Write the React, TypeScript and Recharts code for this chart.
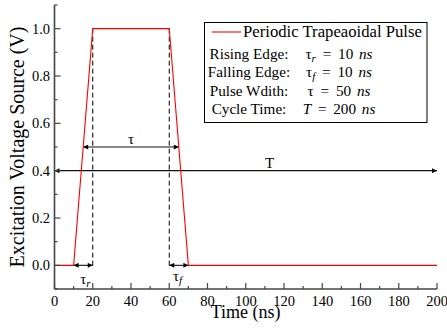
import React from 'react';
import { LineChart, Line, XAxis, YAxis, ReferenceLine, ReferenceDot } from 'recharts';

// ---- data ----
const pulseTime = [0, 10, 20, 60, 70, 200];
const pulseVoltage = [0, 0, 1, 1, 0, 0];

const xTicks = [0, 10, 20, 30, 40, 50, 60, 70, 80, 90, 100, 110, 120, 130, 140, 150, 160, 170, 180, 190, 200];
const yTicks = [-0.1, 0, 0.1, 0.2, 0.3, 0.4, 0.5, 0.6, 0.7, 0.8, 0.9, 1.0, 1.1];

const dashedTimes = [20, 60];
const dashedTop = 1.0;
const dashedBottom = -0.015;

const spanFrom = [0, 15, 10, 60];
const spanTo = [200, 65, 20, 70];
const spanLevel = [0.4, 0.5, 0, 0];

const annotText = ['T', 'τ', 'τ', 'τ'];
const annotSub = ['', '', 'r', 'f'];
const annotX = [112.5, 40, 13.4, 62.0];
const annotY = [0.41, 0.512, -0.077, -0.068];
const annotAnchor = ['middle', 'middle', 'start', 'start'];

const legendTitle = 'Periodic Trapeaoidal Pulse';
const paramNames = ['Rising Edge:', 'Falling Edge:', 'Pulse Wdith:', 'Cycle Time:'];
const paramSymbols = ['τ', 'τ', 'τ', 'T'];
const paramSubs = ['r', 'f', '', ''];
const paramValues = ['10', '10', '50', '200'];

const data = pulseTime.map((t, i) => ({ t, v: pulseVoltage[i] }));

const FONT = "'Liberation Serif', 'Times New Roman', serif";
const AXIS = '#444';
const AXW = 1.6;

const isMajorX = (v: number) => Math.round(v) % 20 === 0;
const isMajorY = (v: number) => Math.round(v * 10) % 2 === 0 && v > -0.01 && v < 1.01;

const XTickBottom = (p: any) => {
  const { x, y, payload } = p;
  const v = payload.value;
  const major = isMajorX(v);
  return (
    <g>
      <line x1={x} x2={x} y1={y} y2={y - (major ? 6 : 3)} stroke={AXIS} strokeWidth={1.2} />
      {major && (
        <text x={x} y={y + 17} textAnchor="middle" fontFamily={FONT} fontSize={14.5} fill="#000">
          {v}
        </text>
      )}
    </g>
  );
};
const XTickTop = (p: any) => {
  const { x, y, payload } = p;
  const major = isMajorX(payload.value);
  return <line x1={x} x2={x} y1={y} y2={y + (major ? 6 : 3)} stroke={AXIS} strokeWidth={1.2} />;
};
const YTickLeft = (p: any) => {
  const { x, y, payload } = p;
  const v = payload.value;
  const major = isMajorY(v);
  return (
    <g>
      <line x1={x} x2={x + (major ? 6 : 3)} y1={y} y2={y} stroke={AXIS} strokeWidth={1.2} />
      {major && (
        <text x={x - 4.5} y={y + 5} textAnchor="end" fontFamily={FONT} fontSize={14.5} fill="#000">
          {Math.abs(v).toFixed(1)}
        </text>
      )}
    </g>
  );
};
const YTickRight = (p: any) => {
  const { x, y, payload } = p;
  const major = isMajorY(payload.value);
  return <line x1={x} x2={x - (major ? 6 : 3)} y1={y} y2={y} stroke={AXIS} strokeWidth={1.2} />;
};

const XTitle = () => (
  <text x={245.6} y={318} textAnchor="middle" fontFamily={FONT} fontSize={18} fill="#000">
    Time (ns)
  </text>
);
const YTitle = () => {
  const cx = 23.5;
  const cy = 147;
  return (
    <text x={cx} y={cy} textAnchor="middle" fontFamily={FONT} fontSize={20} fill="#000" transform={`rotate(-90, ${cx}, ${cy})`}>
      Excitation Voltage Source (V)
    </text>
  );
};

const ArrowShape = (p: any) => (
  <line x1={p.x1} y1={p.y1} x2={p.x2} y2={p.y2} stroke="#111" strokeWidth={1.1} markerStart="url(#ah)" markerEnd="url(#ah)" />
);

const makeAnnot = (i: number) => (p: any) => (
  <text x={p.cx} y={p.cy} textAnchor={annotAnchor[i]} fontFamily={FONT} fontSize={15} fill="#000">
    {annotText[i]}
    {annotSub[i] && (
      <tspan dy={3} fontSize={11} fontStyle="italic">
        {annotSub[i]}
      </tspan>
    )}
  </text>
);

export default function App() {
  return (
    <div style={{ position: 'absolute', left: 0, top: 0, width: 447, height: 328, background: '#fff' }}>
      <LineChart width={447} height={328} data={data} margin={{ top: 5, right: 10, bottom: 0, left: 0 }}>
        <XAxis
          xAxisId="b"
          dataKey="t"
          type="number"
          domain={[0, 200]}
          ticks={xTicks}
          interval={0}
          allowDataOverflow
          tickSize={0}
          tickMargin={0}
          tickLine={false}
          tick={(p: any) => <XTickBottom {...p} />}
          height={39}
          axisLine={{ stroke: AXIS, strokeWidth: AXW }}
          label={{ content: () => <XTitle /> }}
        />
        <XAxis
          xAxisId="t"
          orientation="top"
          type="number"
          domain={[0, 200]}
          ticks={xTicks}
          interval={0}
          allowDataOverflow
          tickSize={0}
          tickMargin={0}
          tickLine={false}
          tick={(p: any) => <XTickTop {...p} />}
          height={0}
          axisLine={{ stroke: AXIS, strokeWidth: AXW }}
        />
        <YAxis
          yAxisId="l"
          type="number"
          domain={[-0.1, 1.1]}
          ticks={yTicks}
          interval={0}
          allowDataOverflow
          tickSize={0}
          tickMargin={0}
          tickLine={false}
          tick={(p: any) => <YTickLeft {...p} />}
          width={54.5}
          axisLine={{ stroke: AXIS, strokeWidth: AXW }}
          label={{ content: () => <YTitle /> }}
        />
        <YAxis
          yAxisId="r"
          orientation="right"
          type="number"
          domain={[-0.1, 1.1]}
          ticks={yTicks}
          interval={0}
          allowDataOverflow
          tickSize={0}
          tickMargin={0}
          tickLine={false}
          tick={(p: any) => <YTickRight {...p} />}
          width={0}
          axisLine={{ stroke: AXIS, strokeWidth: AXW }}
        />
        {dashedTimes.map((t) => (
          <ReferenceLine
            key={'d' + t}
            xAxisId="b"
            yAxisId="l"
            segment={[{ x: t, y: dashedTop }, { x: t, y: dashedBottom }]}
            stroke="#000"
            strokeWidth={1}
            strokeDasharray="5 3"
          />
        ))}
        {spanFrom.map((f, i) => (
          <ReferenceLine
            key={'s' + i}
            xAxisId="b"
            yAxisId="l"
            segment={[{ x: f, y: spanLevel[i] }, { x: spanTo[i], y: spanLevel[i] }]}
            shape={(p: any) => <ArrowShape {...p} />}
          />
        ))}
        {annotX.map((x, i) => (
          <ReferenceDot key={'a' + i} xAxisId="b" yAxisId="l" x={x} y={annotY[i]} r={0} shape={makeAnnot(i)} />
        ))}
        <Line
          xAxisId="b"
          yAxisId="l"
          type="linear"
          dataKey="v"
          stroke="#ff0000"
          strokeWidth={1.1}
          dot={false}
          isAnimationActive={false}
        />
      </LineChart>
      <svg width={447} height={328} style={{ position: 'absolute', left: 0, top: 0, pointerEvents: 'none' }}>
        <defs>
          <marker id="ah" viewBox="0 0 10 10" refX="10" refY="5" markerWidth="6" markerHeight="5" markerUnits="userSpaceOnUse" orient="auto-start-reverse">
            <path d="M0,0 L10,5 L0,10 z" fill="#000" />
          </marker>
        </defs>
        <rect x={204.5} y={22.5} width={222.5} height={100} fill="#fff" stroke="#000" strokeWidth={1} />
        <line x1={212} x2={241} y1={32} y2={32} stroke="#ff0000" strokeWidth={1.1} />
        <text x={243} y={37} fontFamily={FONT} fontSize={16.7} fill="#000">
          {legendTitle}
        </text>
        {paramNames.map((n, i) => {
          const by = [58.7, 77.2, 95.7, 114.2][i];
          return (
            <g key={n}>
              <text x={249} y={by} textAnchor="middle" fontFamily={FONT} fontSize={15.2} fill="#000">
                {n}
              </text>
              <text x={339} y={by} textAnchor="middle" fontFamily={FONT} fontSize={15.2} fill="#000">
                <tspan fontStyle={paramSymbols[i] === 'T' ? 'italic' : 'normal'}>{paramSymbols[i]}</tspan>
                {paramSubs[i] && (
                  <tspan dy={3} fontSize={11} fontStyle="italic">
                    {paramSubs[i]}
                  </tspan>
                )}
                <tspan dy={paramSubs[i] ? -3 : 0} dx={3}>{' ='}</tspan>
                <tspan dx={3}>{' ' + paramValues[i]}</tspan>
                <tspan dx={2} fontStyle="italic">{' ns'}</tspan>
              </text>
            </g>
          );
        })}
      </svg>
    </div>
  );
}
